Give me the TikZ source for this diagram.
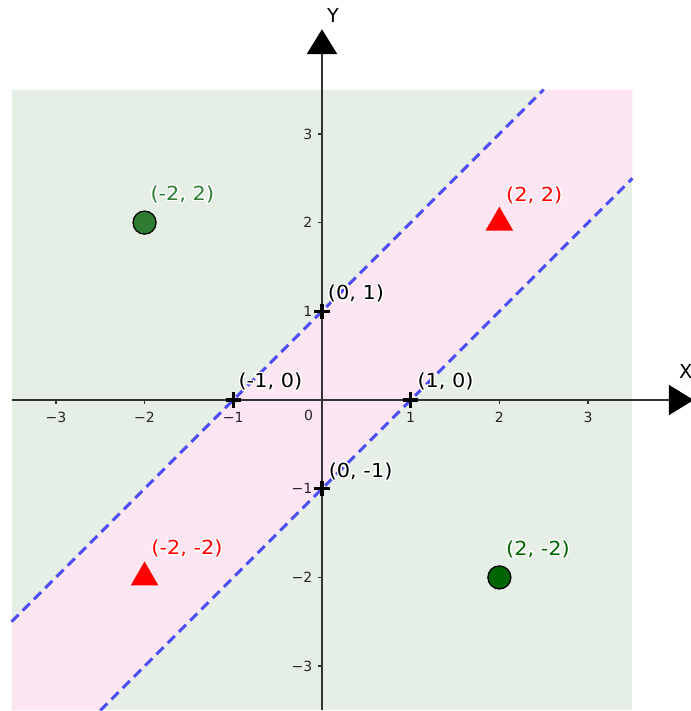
\documentclass[tikz,border=0pt]{standalone}
\usepackage{fontspec}
\setmainfont{DejaVu Sans}
\newfontfamily\ptfont[FakeStretch=1.08]{DejaVu Sans}
\usepackage{contour}
\contourlength{0.45pt}
\usetikzlibrary{arrows.meta,shapes.geometric}
\definecolor{regiongreen}{HTML}{E6EFE5}
\definecolor{bandpink}{HTML}{FDE6F2}
\definecolor{dashblue}{HTML}{4D4DF5}
\definecolor{ptgreen}{HTML}{2E7D32}
\definecolor{ptdarkgreen}{HTML}{006400}
\begin{document}
\begin{tikzpicture}[>={Triangle[length=0.28cm,width=0.34cm,color=black]},
	axis/.style={draw=black!80,line width=0.5pt},
	boundary/.style={draw=dashblue,line width=0.95pt,dash pattern=on 3.2pt off 1.9pt},
	ticklbl/.style={inner sep=0pt,font=\fontsize{4.5}{5}\selectfont,text=black!85},
	ptlbl/.style={inner sep=0pt,anchor=west,font=\ptfont\fontsize{6.2}{7}\selectfont},
	redtri/.style={regular polygon,regular polygon sides=3,fill=red,minimum size=0.36cm,inner sep=0pt},
	dot/.style={circle,draw=black,line width=0.4pt,minimum size=0.26cm,inner sep=0pt}]
			\useasboundingbox (-3.63,-3.506) rectangle (4.16,4.51);
			\fill[regiongreen] (-3.5,-3.5) rectangle (3.5,3.5);
			\fill[bandpink] (-3.5,-3.5)--(-2.5,-3.5)--(3.5,2.5)--(3.5,3.5)--(2.5,3.5)--(-3.5,-2.5)--cycle;
			\draw[boundary] (-3.5,-2.5)--(2.5,3.5);
			\draw[boundary] (-2.5,-3.5)--(3.5,2.5);
			\draw[axis,->] (-3.5,0)--(4.19,0) coordinate (xend);
			\draw[axis,->] (0,-3.5)--(0,4.18) coordinate (yend);
			\node[font=\fontsize{6.2}{7}\selectfont] (xlbl) at (4.10,0.32) {X};
			\node[font=\fontsize{6.2}{7}\selectfont] (ylbl) at (0.124,4.33) {Y};
			\foreach \k/\s in {-3/−3,-2/−2,-1/−1,1/1,2/2,3/3}{
				\draw[axis] (\k,0)--(\k,-0.04) node[ticklbl,below=0.09cm]{\s};
				\draw[axis] (0,\k)--(-0.04,\k) node[ticklbl,left=0.06cm]{\s};
			}
			\node[ticklbl] (zero) at (-0.15,-0.17) {0};
			\foreach \p in {(0,1),(-1,0),(1,0),(0,-1)}
				\draw[line width=1pt] \p +(-0.085,0)--+(0.085,0) \p +(0,-0.085)--+(0,0.085);
			\node[ptlbl] (lA) at (0.06,1.19) {\contour{white}{(0, 1)}};
			\node[ptlbl] (lB) at (-0.947,0.20) {\contour{white}{(-1, 0)}};
			\node[ptlbl] (lC) at (1.07,0.20) {\contour{white}{(1, 0)}};
			\node[ptlbl] (lD) at (0.07,-0.81) {\contour{white}{(0, -1)}};
			\node[dot,fill=ptgreen] (gA) at (-2,2) {};
			\node[dot,fill=ptdarkgreen] (gB) at (2,-2) {};
			\node[redtri] (rA) at (2,2) {};
			\node[redtri] (rB) at (-2,-2) {};
			\node[ptlbl,text=ptgreen] at (-1.94,2.31) {\contour{white}{(-2, 2)}};
			\node[ptlbl,text=ptdarkgreen] at (2.07,-1.69) {\contour{white}{(2, -2)}};
			\node[ptlbl,text=red] at (2.07,2.30) {\contour{white}{(2, 2)}};
			\node[ptlbl,text=red] at (-1.93,-1.685) {\contour{white}{(-2, -2)}};
			\end{tikzpicture}
\end{document}
